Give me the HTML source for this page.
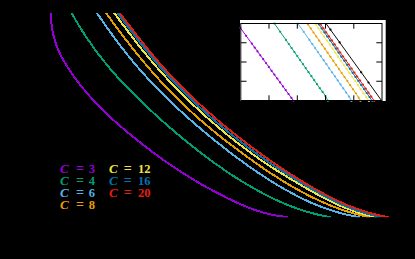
<!DOCTYPE html>
<html><head><meta charset="utf-8"><title>plot</title><style>
html,body{margin:0;padding:0;background:#000;overflow:hidden}
svg{display:block}
</style></head><body>
<svg width="415" height="259" viewBox="0 0 415 259">
<rect x="0" y="0" width="415" height="259" fill="#000"/>
<defs><clipPath id="pc"><rect x="40" y="13" width="350" height="204.3"/></clipPath></defs>
<g fill="none" stroke-width="2.0" stroke-linejoin="round" stroke-linecap="butt" shape-rendering="crispEdges" clip-path="url(#pc)">
<path d="M50.8,10.1 L50.9,13.1 L51.1,18.5 L51.5,23.7 L52.1,28.6 L53.0,33.3 L54.1,37.8 L55.3,42.1 L56.8,46.2 L58.4,50.1 L60.1,54.0 L62.0,57.7 L64.0,61.2 L66.1,64.7 L68.2,68.1 L70.4,71.5 L72.7,74.8 L75.0,78.0 L77.4,81.2 L79.8,84.4 L82.3,87.5 L84.8,90.5 L87.4,93.5 L90.0,96.5 L92.6,99.4 L95.3,102.3 L98.0,105.1 L100.8,107.9 L103.6,110.7 L106.4,113.4 L109.3,116.1 L112.1,118.8 L115.1,121.5 L118.0,124.1 L121.0,126.7 L124.0,129.3 L127.0,131.8 L130.0,134.3 L133.1,136.9 L136.2,139.3 L139.3,141.8 L142.4,144.3 L145.5,146.7 L148.7,149.1 L151.8,151.5 L155.0,153.9 L158.2,156.2 L161.5,158.6 L164.7,160.9 L168.0,163.2 L171.3,165.4 L174.6,167.7 L178.0,169.9 L181.4,172.1 L184.8,174.2 L188.2,176.4 L191.6,178.5 L195.1,180.6 L198.6,182.6 L202.1,184.7 L205.7,186.7 L209.3,188.7 L212.9,190.6 L216.5,192.5 L220.2,194.4 L223.9,196.3 L227.6,198.2 L231.3,200.0 L235.1,201.8 L238.9,203.5 L242.8,205.2 L246.7,206.9 L250.7,208.5 L254.8,209.9 L259.0,211.3 L263.3,212.6 L267.7,213.7 L272.2,214.8 L276.9,215.7 L281.8,216.4 L286.8,216.9 L287.8,217.1" stroke="#9400D3"/>
<path d="M70.1,10.5 L71.6,13.1 L73.7,16.8 L75.9,20.5 L78.1,24.2 L80.3,27.8 L82.6,31.4 L84.9,34.9 L87.2,38.4 L89.6,41.9 L92.0,45.3 L94.4,48.7 L96.9,52.1 L99.4,55.4 L102.0,58.7 L104.6,62.0 L107.2,65.2 L109.8,68.4 L112.5,71.5 L115.3,74.6 L118.0,77.7 L120.8,80.8 L123.6,83.8 L126.5,86.8 L129.4,89.7 L132.3,92.7 L135.2,95.6 L138.2,98.5 L141.1,101.4 L144.1,104.2 L147.1,107.1 L150.2,109.9 L153.2,112.7 L156.3,115.5 L159.3,118.2 L162.4,121.0 L165.5,123.7 L168.6,126.5 L171.8,129.2 L174.9,131.9 L178.1,134.6 L181.3,137.2 L184.5,139.9 L187.7,142.5 L190.9,145.1 L194.2,147.7 L197.4,150.3 L200.7,152.8 L204.1,155.3 L207.4,157.8 L210.8,160.3 L214.1,162.8 L217.5,165.2 L221.0,167.6 L224.4,170.0 L227.9,172.4 L231.4,174.7 L235.0,177.0 L238.6,179.3 L242.2,181.5 L245.8,183.7 L249.5,185.9 L253.2,188.0 L256.9,190.1 L260.7,192.2 L264.5,194.2 L268.4,196.2 L272.3,198.1 L276.3,200.0 L280.3,201.8 L284.4,203.6 L288.5,205.3 L292.7,206.9 L297.0,208.5 L301.4,210.0 L305.8,211.4 L310.4,212.7 L315.0,213.9 L319.7,215.0 L324.5,216.1 L329.4,217.0 L330.4,217.2" stroke="#009E73"/>
<path d="M95.3,10.6 L97.0,13.1 L99.4,16.6 L101.8,20.1 L104.2,23.5 L106.6,27.0 L109.1,30.4 L111.6,33.9 L114.0,37.3 L116.6,40.6 L119.1,44.0 L121.6,47.4 L124.2,50.7 L126.8,54.0 L129.4,57.2 L132.1,60.5 L134.8,63.7 L137.5,66.9 L140.2,70.0 L143.0,73.2 L145.8,76.3 L148.6,79.3 L151.4,82.4 L154.3,85.4 L157.2,88.4 L160.1,91.4 L163.1,94.3 L166.0,97.3 L169.0,100.2 L172.0,103.1 L175.1,105.9 L178.1,108.8 L181.2,111.6 L184.3,114.4 L187.4,117.2 L190.5,120.0 L193.6,122.7 L196.8,125.5 L200.0,128.2 L203.2,130.9 L206.4,133.6 L209.6,136.2 L212.8,138.9 L216.1,141.5 L219.4,144.1 L222.7,146.7 L226.0,149.3 L229.3,151.9 L232.7,154.4 L236.0,156.9 L239.4,159.5 L242.8,161.9 L246.2,164.4 L249.7,166.9 L253.2,169.3 L256.6,171.7 L260.2,174.1 L263.7,176.4 L267.3,178.7 L270.9,181.0 L274.5,183.3 L278.2,185.5 L281.9,187.7 L285.7,189.8 L289.5,191.9 L293.3,194.0 L297.2,196.0 L301.1,198.0 L305.1,199.9 L309.1,201.8 L313.2,203.6 L317.4,205.3 L321.6,207.0 L325.9,208.5 L330.3,210.0 L334.8,211.4 L339.4,212.8 L344.0,214.0 L348.8,215.1 L353.7,216.1 L358.7,217.0 L359.7,217.2" stroke="#56B4E9"/>
<path d="M104.5,10.7 L106.2,13.1 L108.7,16.5 L111.1,20.0 L113.6,23.4 L116.1,26.8 L118.6,30.2 L121.2,33.5 L123.7,36.9 L126.3,40.2 L128.9,43.6 L131.4,46.9 L134.1,50.2 L136.7,53.4 L139.3,56.7 L142.0,59.9 L144.7,63.2 L147.4,66.3 L150.1,69.5 L152.9,72.7 L155.7,75.8 L158.5,78.9 L161.3,82.0 L164.1,85.0 L167.0,88.1 L169.9,91.1 L172.8,94.0 L175.8,97.0 L178.7,99.9 L181.7,102.9 L184.7,105.7 L187.8,108.6 L190.8,111.4 L193.9,114.2 L197.0,117.0 L200.2,119.8 L203.4,122.5 L206.5,125.2 L209.8,127.9 L213.0,130.6 L216.2,133.3 L219.5,135.9 L222.8,138.5 L226.1,141.1 L229.5,143.7 L232.8,146.2 L236.2,148.7 L239.6,151.3 L242.9,153.8 L246.4,156.3 L249.8,158.7 L253.2,161.2 L256.7,163.6 L260.2,166.1 L263.7,168.5 L267.2,170.9 L270.7,173.2 L274.3,175.5 L277.9,177.8 L281.5,180.1 L285.2,182.4 L288.9,184.6 L292.6,186.7 L296.4,188.9 L300.2,191.0 L304.0,193.1 L307.9,195.1 L311.8,197.1 L315.8,199.0 L319.8,200.9 L323.9,202.7 L328.0,204.5 L332.2,206.2 L336.5,207.8 L340.8,209.4 L345.2,210.8 L349.7,212.2 L354.3,213.6 L359.0,214.8 L363.8,215.9 L368.6,217.0 L369.6,217.2" stroke="#E69F00"/>
<path d="M112.5,10.7 L114.3,13.1 L116.8,16.5 L119.3,19.9 L121.8,23.3 L124.4,26.6 L126.9,30.0 L129.4,33.4 L132.0,36.7 L134.5,40.1 L137.1,43.4 L139.7,46.7 L142.3,50.0 L145.0,53.2 L147.6,56.5 L150.3,59.7 L153.0,62.9 L155.7,66.1 L158.5,69.2 L161.2,72.4 L164.1,75.4 L166.9,78.5 L169.7,81.6 L172.6,84.6 L175.5,87.6 L178.4,90.6 L181.4,93.5 L184.4,96.4 L187.4,99.3 L190.4,102.2 L193.4,105.1 L196.5,107.9 L199.5,110.8 L202.6,113.6 L205.7,116.4 L208.8,119.2 L212.0,121.9 L215.2,124.6 L218.4,127.3 L221.6,130.0 L224.8,132.7 L228.0,135.4 L231.3,138.0 L234.6,140.6 L237.9,143.2 L241.3,145.7 L244.6,148.3 L248.0,150.8 L251.4,153.3 L254.9,155.7 L258.3,158.2 L261.8,160.6 L265.3,163.0 L268.9,165.3 L272.4,167.7 L276.0,170.0 L279.6,172.3 L283.3,174.5 L286.9,176.8 L290.6,179.0 L294.3,181.2 L298.0,183.4 L301.7,185.6 L305.4,187.8 L309.2,189.9 L313.0,192.0 L316.8,194.1 L320.6,196.2 L324.5,198.2 L328.4,200.2 L332.3,202.2 L336.4,204.0 L340.4,205.9 L344.6,207.6 L348.9,209.2 L353.2,210.8 L357.6,212.3 L362.2,213.6 L366.8,214.9 L371.6,216.0 L376.5,217.0 L377.5,217.2" stroke="#F0E442"/>
<path d="M115.7,10.7 L117.5,13.1 L120.0,16.5 L122.6,19.8 L125.1,23.2 L127.7,26.5 L130.2,29.9 L132.8,33.2 L135.4,36.6 L137.9,39.9 L140.5,43.2 L143.1,46.5 L145.8,49.8 L148.4,53.0 L151.1,56.3 L153.7,59.5 L156.4,62.7 L159.2,65.9 L161.9,69.0 L164.7,72.1 L167.5,75.2 L170.4,78.3 L173.2,81.3 L176.1,84.4 L179.0,87.3 L182.0,90.3 L184.9,93.3 L187.9,96.2 L190.9,99.1 L193.9,102.0 L197.0,104.8 L200.1,107.6 L203.2,110.5 L206.3,113.3 L209.4,116.0 L212.5,118.8 L215.7,121.5 L218.9,124.2 L222.1,126.9 L225.3,129.6 L228.6,132.3 L231.9,134.9 L235.1,137.5 L238.4,140.1 L241.8,142.7 L245.1,145.2 L248.5,147.8 L251.9,150.3 L255.3,152.8 L258.7,155.2 L262.2,157.7 L265.7,160.1 L269.2,162.5 L272.7,164.9 L276.2,167.3 L279.8,169.6 L283.4,171.9 L287.0,174.2 L290.6,176.5 L294.3,178.8 L297.9,181.0 L301.6,183.2 L305.3,185.4 L309.1,187.6 L312.8,189.7 L316.6,191.8 L320.4,193.9 L324.3,196.0 L328.2,198.0 L332.1,200.0 L336.1,201.9 L340.1,203.8 L344.2,205.6 L348.4,207.3 L352.6,209.0 L356.9,210.6 L361.3,212.0 L365.9,213.4 L370.5,214.7 L375.2,215.9 L380.0,217.0 L381.0,217.2" stroke="#0072B2"/>
<path d="M117.9,10.7 L119.7,13.1 L122.3,16.5 L124.9,19.8 L127.5,23.2 L130.1,26.6 L132.7,29.9 L135.3,33.3 L137.9,36.7 L140.6,40.0 L143.2,43.3 L145.8,46.7 L148.5,50.0 L151.2,53.3 L153.9,56.5 L156.6,59.8 L159.4,63.0 L162.2,66.2 L165.0,69.3 L167.8,72.5 L170.7,75.6 L173.6,78.7 L176.5,81.7 L179.4,84.7 L182.4,87.7 L185.4,90.7 L188.4,93.6 L191.5,96.6 L194.5,99.5 L197.6,102.3 L200.7,105.2 L203.9,108.0 L207.0,110.9 L210.2,113.7 L213.4,116.4 L216.6,119.2 L219.8,121.9 L223.1,124.7 L226.4,127.4 L229.6,130.0 L233.0,132.7 L236.3,135.4 L239.6,138.0 L243.0,140.6 L246.4,143.2 L249.8,145.8 L253.2,148.3 L256.6,150.8 L260.1,153.4 L263.5,155.9 L267.0,158.3 L270.5,160.8 L274.1,163.2 L277.6,165.7 L281.2,168.1 L284.8,170.4 L288.4,172.8 L292.0,175.1 L295.7,177.4 L299.4,179.7 L303.1,182.0 L306.8,184.2 L310.6,186.4 L314.4,188.6 L318.2,190.7 L322.1,192.9 L326.0,194.9 L329.9,197.0 L333.9,199.0 L337.9,200.9 L342.0,202.8 L346.1,204.6 L350.4,206.4 L354.7,208.0 L359.1,209.6 L363.5,211.1 L368.1,212.5 L372.8,213.8 L377.6,215.0 L382.5,216.1 L387.5,217.0 L388.5,217.2" stroke="#E51E10"/>
</g>
<rect x="240" y="20" width="145.7" height="81" fill="#fff"/>
<g fill="none" stroke-width="0.95" stroke-linejoin="round">
<path d="M240.3,27.8 L293.5,100.8" stroke="#9400D3"/>
<path d="M274.4,23.5 L320.0,88.5 L323.5,93.0 L325.9,96.8 L327.9,100.9" stroke="#009E73"/>
<path d="M297.9,23.5 L347.5,94.4 L349.6,97.5 L351.4,100.9" stroke="#56B4E9"/>
<path d="M307.3,23.5 L356.5,94.3 L358.6,97.5 L360.4,100.9" stroke="#E69F00"/>
<path d="M315.0,23.5 L368.9,100.9" stroke="#F0E442"/>
<path d="M318.2,23.5 L372.2,100.9" stroke="#0072B2"/>
<path d="M320.0,23.5 L374.3,100.9" stroke="#E51E10"/>
<path d="M326.0,23.5 L381.8,100.9" stroke="#000"/>
</g>
<g>
<circle cx="240.3" cy="27.8" r="1.1" fill="#9400D3"/>
<circle cx="246.1" cy="35.8" r="1.1" fill="#9400D3"/>
<circle cx="251.8" cy="43.6" r="1.1" fill="#9400D3"/>
<circle cx="254.7" cy="47.6" r="1.1" fill="#9400D3"/>
<circle cx="257.5" cy="51.4" r="1.1" fill="#9400D3"/>
<circle cx="260.3" cy="55.3" r="1.1" fill="#9400D3"/>
<circle cx="263.2" cy="59.2" r="1.1" fill="#9400D3"/>
<circle cx="266.0" cy="63.0" r="1.1" fill="#9400D3"/>
<circle cx="268.8" cy="66.9" r="1.1" fill="#9400D3"/>
<circle cx="271.6" cy="70.8" r="1.1" fill="#9400D3"/>
<circle cx="274.4" cy="74.6" r="1.1" fill="#9400D3"/>
<circle cx="277.3" cy="78.5" r="1.1" fill="#9400D3"/>
<circle cx="280.1" cy="82.4" r="1.1" fill="#9400D3"/>
<circle cx="282.9" cy="86.3" r="1.1" fill="#9400D3"/>
<circle cx="285.7" cy="90.1" r="1.1" fill="#9400D3"/>
<circle cx="288.5" cy="94.0" r="1.1" fill="#9400D3"/>
<circle cx="291.4" cy="97.9" r="1.1" fill="#9400D3"/>
<circle cx="293.5" cy="100.8" r="1.1" fill="#9400D3"/>
<circle cx="274.4" cy="23.5" r="1.1" fill="#009E73"/>
<circle cx="280.2" cy="31.8" r="1.1" fill="#009E73"/>
<circle cx="285.9" cy="39.9" r="1.1" fill="#009E73"/>
<circle cx="288.8" cy="44.0" r="1.1" fill="#009E73"/>
<circle cx="291.6" cy="48.0" r="1.1" fill="#009E73"/>
<circle cx="294.4" cy="52.1" r="1.1" fill="#009E73"/>
<circle cx="297.3" cy="56.1" r="1.1" fill="#009E73"/>
<circle cx="300.1" cy="60.1" r="1.1" fill="#009E73"/>
<circle cx="302.9" cy="64.1" r="1.1" fill="#009E73"/>
<circle cx="305.7" cy="68.1" r="1.1" fill="#009E73"/>
<circle cx="308.5" cy="72.2" r="1.1" fill="#009E73"/>
<circle cx="311.4" cy="76.2" r="1.1" fill="#009E73"/>
<circle cx="314.2" cy="80.2" r="1.1" fill="#009E73"/>
<circle cx="317.0" cy="84.2" r="1.1" fill="#009E73"/>
<circle cx="319.8" cy="88.2" r="1.1" fill="#009E73"/>
<circle cx="322.6" cy="91.9" r="1.1" fill="#009E73"/>
<circle cx="325.5" cy="96.1" r="1.1" fill="#009E73"/>
<circle cx="327.9" cy="100.9" r="1.1" fill="#009E73"/>
<circle cx="297.9" cy="23.5" r="1.1" fill="#56B4E9"/>
<circle cx="303.7" cy="31.8" r="1.1" fill="#56B4E9"/>
<circle cx="309.4" cy="39.9" r="1.1" fill="#56B4E9"/>
<circle cx="312.3" cy="44.1" r="1.1" fill="#56B4E9"/>
<circle cx="315.1" cy="48.1" r="1.1" fill="#56B4E9"/>
<circle cx="317.9" cy="52.1" r="1.1" fill="#56B4E9"/>
<circle cx="320.8" cy="56.2" r="1.1" fill="#56B4E9"/>
<circle cx="323.6" cy="60.2" r="1.1" fill="#56B4E9"/>
<circle cx="326.4" cy="64.2" r="1.1" fill="#56B4E9"/>
<circle cx="329.2" cy="68.3" r="1.1" fill="#56B4E9"/>
<circle cx="332.0" cy="72.3" r="1.1" fill="#56B4E9"/>
<circle cx="334.9" cy="76.3" r="1.1" fill="#56B4E9"/>
<circle cx="337.7" cy="80.4" r="1.1" fill="#56B4E9"/>
<circle cx="340.5" cy="84.4" r="1.1" fill="#56B4E9"/>
<circle cx="343.3" cy="88.4" r="1.1" fill="#56B4E9"/>
<circle cx="346.1" cy="92.5" r="1.1" fill="#56B4E9"/>
<circle cx="349.0" cy="96.6" r="1.1" fill="#56B4E9"/>
<circle cx="351.4" cy="100.9" r="1.1" fill="#56B4E9"/>
<circle cx="307.9" cy="24.4" r="1.1" fill="#E69F00"/>
<circle cx="310.7" cy="28.4" r="1.1" fill="#E69F00"/>
<circle cx="313.5" cy="32.5" r="1.1" fill="#E69F00"/>
<circle cx="316.3" cy="36.5" r="1.1" fill="#E69F00"/>
<circle cx="319.2" cy="40.6" r="1.1" fill="#E69F00"/>
<circle cx="322.0" cy="44.6" r="1.1" fill="#E69F00"/>
<circle cx="324.8" cy="48.7" r="1.1" fill="#E69F00"/>
<circle cx="327.6" cy="52.7" r="1.1" fill="#E69F00"/>
<circle cx="330.4" cy="56.8" r="1.1" fill="#E69F00"/>
<circle cx="333.3" cy="60.9" r="1.1" fill="#E69F00"/>
<circle cx="336.1" cy="64.9" r="1.1" fill="#E69F00"/>
<circle cx="338.9" cy="69.0" r="1.1" fill="#E69F00"/>
<circle cx="341.7" cy="73.0" r="1.1" fill="#E69F00"/>
<circle cx="344.5" cy="77.1" r="1.1" fill="#E69F00"/>
<circle cx="347.4" cy="81.1" r="1.1" fill="#E69F00"/>
<circle cx="350.2" cy="85.2" r="1.1" fill="#E69F00"/>
<circle cx="353.0" cy="89.3" r="1.1" fill="#E69F00"/>
<circle cx="355.8" cy="93.3" r="1.1" fill="#E69F00"/>
<circle cx="358.6" cy="97.6" r="1.1" fill="#E69F00"/>
<circle cx="360.4" cy="100.9" r="1.1" fill="#E69F00"/>
<circle cx="315.6" cy="24.4" r="1.1" fill="#F0E442"/>
<circle cx="318.4" cy="28.4" r="1.1" fill="#F0E442"/>
<circle cx="321.2" cy="32.4" r="1.1" fill="#F0E442"/>
<circle cx="324.0" cy="36.5" r="1.1" fill="#F0E442"/>
<circle cx="326.9" cy="40.5" r="1.1" fill="#F0E442"/>
<circle cx="329.7" cy="44.6" r="1.1" fill="#F0E442"/>
<circle cx="332.5" cy="48.6" r="1.1" fill="#F0E442"/>
<circle cx="335.3" cy="52.7" r="1.1" fill="#F0E442"/>
<circle cx="338.1" cy="56.7" r="1.1" fill="#F0E442"/>
<circle cx="341.0" cy="60.8" r="1.1" fill="#F0E442"/>
<circle cx="343.8" cy="64.8" r="1.1" fill="#F0E442"/>
<circle cx="346.6" cy="68.9" r="1.1" fill="#F0E442"/>
<circle cx="349.4" cy="72.9" r="1.1" fill="#F0E442"/>
<circle cx="352.2" cy="77.0" r="1.1" fill="#F0E442"/>
<circle cx="355.1" cy="81.0" r="1.1" fill="#F0E442"/>
<circle cx="357.9" cy="85.1" r="1.1" fill="#F0E442"/>
<circle cx="360.7" cy="89.1" r="1.1" fill="#F0E442"/>
<circle cx="363.5" cy="93.2" r="1.1" fill="#F0E442"/>
<circle cx="366.3" cy="97.2" r="1.1" fill="#F0E442"/>
<circle cx="368.9" cy="100.9" r="1.1" fill="#F0E442"/>
<circle cx="318.8" cy="24.4" r="1.1" fill="#0072B2"/>
<circle cx="321.6" cy="28.4" r="1.1" fill="#0072B2"/>
<circle cx="324.4" cy="32.4" r="1.1" fill="#0072B2"/>
<circle cx="327.2" cy="36.5" r="1.1" fill="#0072B2"/>
<circle cx="330.1" cy="40.5" r="1.1" fill="#0072B2"/>
<circle cx="332.9" cy="44.5" r="1.1" fill="#0072B2"/>
<circle cx="335.7" cy="48.6" r="1.1" fill="#0072B2"/>
<circle cx="338.5" cy="52.6" r="1.1" fill="#0072B2"/>
<circle cx="341.3" cy="56.7" r="1.1" fill="#0072B2"/>
<circle cx="344.2" cy="60.7" r="1.1" fill="#0072B2"/>
<circle cx="347.0" cy="64.8" r="1.1" fill="#0072B2"/>
<circle cx="349.8" cy="68.8" r="1.1" fill="#0072B2"/>
<circle cx="352.6" cy="72.8" r="1.1" fill="#0072B2"/>
<circle cx="355.4" cy="76.9" r="1.1" fill="#0072B2"/>
<circle cx="358.3" cy="80.9" r="1.1" fill="#0072B2"/>
<circle cx="361.1" cy="85.0" r="1.1" fill="#0072B2"/>
<circle cx="363.9" cy="89.0" r="1.1" fill="#0072B2"/>
<circle cx="366.7" cy="93.0" r="1.1" fill="#0072B2"/>
<circle cx="369.5" cy="97.1" r="1.1" fill="#0072B2"/>
<circle cx="372.2" cy="100.9" r="1.1" fill="#0072B2"/>
<circle cx="320.6" cy="24.4" r="1.1" fill="#E51E10"/>
<circle cx="323.4" cy="28.3" r="1.1" fill="#E51E10"/>
<circle cx="326.2" cy="32.4" r="1.1" fill="#E51E10"/>
<circle cx="329.0" cy="36.4" r="1.1" fill="#E51E10"/>
<circle cx="331.9" cy="40.4" r="1.1" fill="#E51E10"/>
<circle cx="334.7" cy="44.4" r="1.1" fill="#E51E10"/>
<circle cx="337.5" cy="48.4" r="1.1" fill="#E51E10"/>
<circle cx="340.3" cy="52.5" r="1.1" fill="#E51E10"/>
<circle cx="343.1" cy="56.5" r="1.1" fill="#E51E10"/>
<circle cx="346.0" cy="60.5" r="1.1" fill="#E51E10"/>
<circle cx="348.8" cy="64.5" r="1.1" fill="#E51E10"/>
<circle cx="351.6" cy="68.5" r="1.1" fill="#E51E10"/>
<circle cx="354.4" cy="72.6" r="1.1" fill="#E51E10"/>
<circle cx="357.2" cy="76.6" r="1.1" fill="#E51E10"/>
<circle cx="360.1" cy="80.6" r="1.1" fill="#E51E10"/>
<circle cx="362.9" cy="84.6" r="1.1" fill="#E51E10"/>
<circle cx="365.7" cy="88.6" r="1.1" fill="#E51E10"/>
<circle cx="368.5" cy="92.7" r="1.1" fill="#E51E10"/>
<circle cx="371.3" cy="96.7" r="1.1" fill="#E51E10"/>
<circle cx="374.3" cy="100.9" r="1.1" fill="#E51E10"/>
<circle cx="330.5" cy="29.7" r="1.1" fill="#000"/>
<circle cx="339.6" cy="42.4" r="1.1" fill="#000"/>
<circle cx="361.2" cy="72.3" r="1.1" fill="#000"/>
<circle cx="368.5" cy="82.5" r="1.1" fill="#000"/>
</g>
<g stroke="#000" stroke-width="1" fill="none">
<rect x="240.8" y="23.5" width="141.2" height="77.0"/>
<path d="M269.0,23.5 v5.2 M269.0,100.5 v-5.2"/>
<path d="M297.3,23.5 v5.2 M297.3,100.5 v-5.2"/>
<path d="M325.5,23.5 v5.2 M325.5,100.5 v-5.2"/>
<path d="M353.8,23.5 v5.2 M353.8,100.5 v-5.2"/>
<path d="M240.8,42.75 h5.7 M382.0,42.75 h-5.7"/>
<path d="M240.8,62.00 h5.7 M382.0,62.00 h-5.7"/>
<path d="M240.8,81.25 h5.7 M382.0,81.25 h-5.7"/>
</g>
<g font-family="'Liberation Serif', serif" font-weight="bold" font-size="12.5">
<text y="172.5" fill="#9400D3"><tspan x="60" font-style="italic" font-size="13">C</tspan><tspan x="80" text-anchor="middle" font-size="14">=</tspan><tspan x="88.8">3</tspan></text>
<text y="184.6" fill="#009E73"><tspan x="60" font-style="italic" font-size="13">C</tspan><tspan x="80" text-anchor="middle" font-size="14">=</tspan><tspan x="88.8">4</tspan></text>
<text y="196.7" fill="#56B4E9"><tspan x="60" font-style="italic" font-size="13">C</tspan><tspan x="80" text-anchor="middle" font-size="14">=</tspan><tspan x="88.8">6</tspan></text>
<text y="208.8" fill="#E69F00"><tspan x="60" font-style="italic" font-size="13">C</tspan><tspan x="80" text-anchor="middle" font-size="14">=</tspan><tspan x="88.8">8</tspan></text>
<text y="172.5" fill="#F0E442"><tspan x="108.9" font-style="italic" font-size="13">C</tspan><tspan x="127.85" text-anchor="middle" font-size="14">=</tspan><tspan x="138">12</tspan></text>
<text y="184.6" fill="#0072B2"><tspan x="108.9" font-style="italic" font-size="13">C</tspan><tspan x="127.85" text-anchor="middle" font-size="14">=</tspan><tspan x="138">16</tspan></text>
<text y="196.7" fill="#E51E10"><tspan x="108.9" font-style="italic" font-size="13">C</tspan><tspan x="127.85" text-anchor="middle" font-size="14">=</tspan><tspan x="138">20</tspan></text>
</g>
</svg></body></html>
